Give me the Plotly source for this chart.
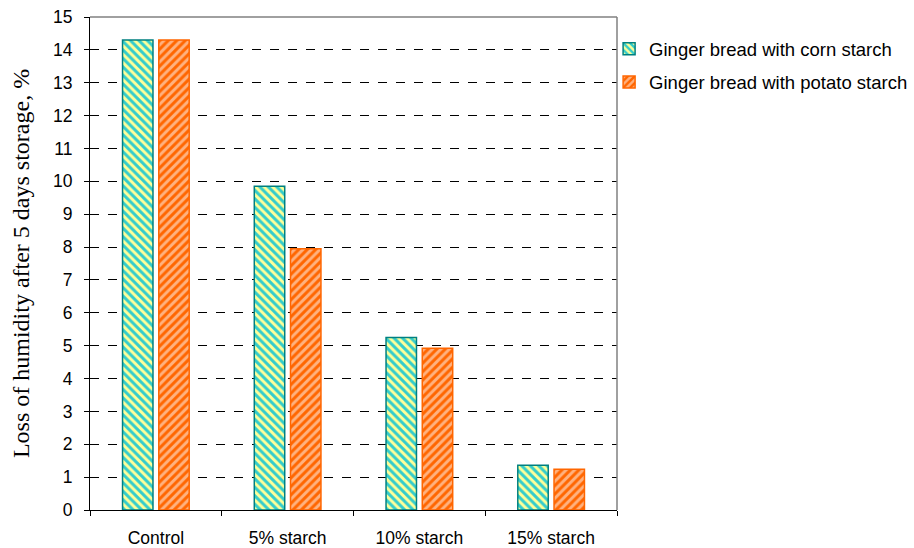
import plotly.graph_objects as go

categories = ["Control", "5% starch", "10% starch", "15% starch"]
corn_values = [14.3, 9.85, 5.25, 1.36]
potato_values = [14.3, 7.95, 4.92, 1.24]
series_names = ["Ginger bread with corn starch", "Ginger bread with potato starch"]
y_ticks = list(range(0, 16))

fig = go.Figure()
fig.add_trace(go.Bar(
    x=categories, y=corn_values, name=series_names[0], legendgroup="a",
    marker=dict(color="#FFFF99", line=dict(color="#008080", width=1.5),
                pattern=dict(shape="\\", fgcolor="#33CCCC", bgcolor="#FFFF99",
                             size=6, solidity=0.5, fillmode="replace")),
))
fig.add_trace(go.Bar(
    x=categories, y=potato_values, name=series_names[1], legendgroup="b",
    marker=dict(color="#FFCC99", line=dict(color="#FF6600", width=1.5),
                pattern=dict(shape="/", fgcolor="#FF6600", bgcolor="#FFB27F",
                             size=6, solidity=0.5, fillmode="replace")),
))

fig.update_layout(
    width=914, height=548,
    margin=dict(l=90, r=297, t=17, b=38, autoexpand=False),
    plot_bgcolor="white", paper_bgcolor="white",
    barmode="group", bargap=0.45, bargroupgap=0.16,
    font=dict(family="Liberation Sans, Arial", size=17.5, color="black"),
    legend=dict(x=0.985, y=0.973, xanchor="left", yanchor="top",
                traceorder="grouped", tracegroupgap=6, itemwidth=30,
                font=dict(size=18.5), bgcolor="rgba(0,0,0,0)"),
    xaxis=dict(showline=True, linecolor="black", linewidth=1,
               ticks="outside", tickson="boundaries", ticklen=5, tickcolor="black",
               showgrid=False, ticklabelstandoff=12, automargin=False),
    yaxis=dict(range=[0, 15], tickvals=y_ticks, showline=True, linecolor="black",
               linewidth=1, ticks="outside", ticklen=5, tickcolor="black",
               showgrid=True, gridcolor="black", griddash="dash", gridwidth=1,
               zeroline=False, ticklabelstandoff=8, automargin=False,
               title=dict(text="Loss of humidity after 5 days storage, %",
                          font=dict(family="Liberation Serif, Times New Roman", size=24),
                          standoff=16)),
    yaxis2=dict(range=[0, 15], tickvals=y_ticks, overlaying="y", side="left",
                ticks="inside", ticklen=5, tickcolor="black", showticklabels=False,
                showgrid=False, zeroline=False, showline=False, automargin=False),
)
fig.add_trace(go.Scatter(x=[categories[0]], y=[None], yaxis="y2", showlegend=False,
                         hoverinfo="skip"))

fig.add_shape(type="line", xref="x domain", yref="y domain", x0=0, x1=1, y0=1, y1=1,
              line=dict(color="#808080", width=1.5))
fig.add_shape(type="line", xref="x domain", yref="y domain", x0=1, x1=1, y0=0, y1=1,
              line=dict(color="#808080", width=1.5))

fig.write_html("out.html")
